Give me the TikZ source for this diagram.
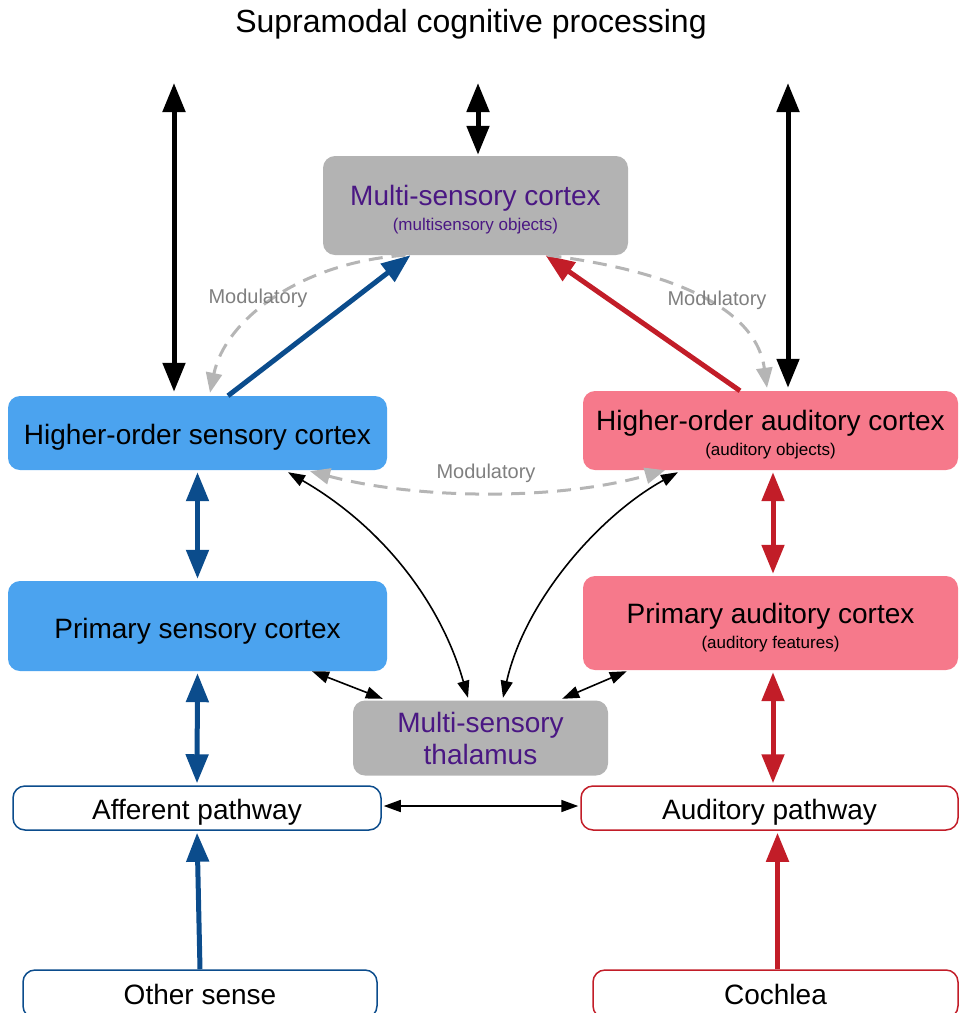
\documentclass[tikz,border=0pt]{standalone}
\usepackage{fontspec}
\setmainfont{Liberation Sans}
\usetikzlibrary{arrows.meta,calc}
\definecolor{boxblue}{HTML}{4BA3EF}
\definecolor{darkblue}{HTML}{0B4C8C}
\definecolor{boxpink}{HTML}{F6798B}
\definecolor{darkred}{HTML}{C21D28}
\definecolor{boxgray}{HTML}{B3B3B3}
\definecolor{purp}{HTML}{4A1783}
\definecolor{modgray}{HTML}{B5B5B5}
\definecolor{labgray}{HTML}{7F7F7F}
\newcommand{\upstrut}[1]{\rule{0pt}{#1}}
\begin{document}
\begin{tikzpicture}[x=1pt,y=-1pt,
  box/.style={rounded corners=12pt, inner sep=0pt, align=center, font=\fontsize{28}{32}\selectfont},
  pathbox/.style={rounded corners=12pt, inner sep=0pt, align=center, fill=white, line width=1.5pt, font=\fontsize{28}{32}\selectfont},
  bigtip/.tip={Triangle[width=22pt,length=29pt]},
  thintip/.tip={Triangle[width=12pt,length=17pt]},
  modtip/.tip={Triangle[width=16pt,length=20pt]},
  thickline/.style={line width=5pt},
  blkthick/.style={thickline, black, {bigtip}-{bigtip}},
  bluetwo/.style={thickline, darkblue, {bigtip}-{bigtip}, shorten <=2pt, shorten >=2pt},
  blueone/.style={thickline, darkblue, -{bigtip}},
  redtwo/.style={thickline, darkred, {bigtip}-{bigtip}, shorten <=2pt, shorten >=2pt},
  redone/.style={thickline, darkred, -{bigtip}},
  thinarr/.style={line width=1.6pt, black, {thintip}-{thintip}},
  modline/.style={line width=3pt, modgray, dash pattern=on 14pt off 9pt},
  modlabel/.style={font=\fontsize{20}{24}\selectfont, text=labgray, inner sep=0pt}
]
\useasboundingbox (0,0) rectangle (959,1013);

% title
\node[font=\fontsize{32}{36}\selectfont, inner sep=0pt] (title) at (471,24) {Supramodal cognitive processing};

% boxes
\node[box, fill=boxgray, text=purp, minimum width=305pt, minimum height=99pt] (mc) at (475.5,205.5)
  {\upstrut{29.5pt}Multi-sensory cortex\\[-7pt]{\fontsize{17}{20}\selectfont (multisensory objects)}};
\node[box, fill=boxblue, minimum width=379pt, minimum height=74pt] (hos) at (197.5,433) {\upstrut{28pt}Higher-order sensory cortex};
\node[box, fill=boxpink, minimum width=375pt, minimum height=79pt] (ha) at (770.5,430.5)
  {\upstrut{29.5pt}Higher-order auditory cortex\\[-7pt]{\fontsize{17}{20}\selectfont (auditory objects)}};
\node[box, fill=boxblue, minimum width=379pt, minimum height=90pt] (ps) at (197.5,626) {\upstrut{30pt}Primary sensory cortex};
\node[box, fill=boxpink, minimum width=375pt, minimum height=94pt] (pa) at (770.5,623)
  {\upstrut{29.5pt}Primary auditory cortex\\[-7pt]{\fontsize{17}{20}\selectfont (auditory features)}};
\node[box, fill=boxgray, text=purp, minimum width=255pt, minimum height=75pt] (thal) at (480.5,738)
  {Multi-sensory\\thalamus};
\node[pathbox, draw=darkblue, minimum width=368pt, minimum height=44pt] (af) at (197,808) {\upstrut{29pt}Afferent pathway};
\node[pathbox, draw=darkred, minimum width=377pt, minimum height=44pt] (apw) at (769.5,808) {\upstrut{29pt}Auditory pathway};
\node[pathbox, draw=darkblue, minimum width=354pt, minimum height=48pt] (os) at (200,994) {Other sense};
\node[pathbox, draw=darkred, minimum width=365pt, minimum height=48pt] (coch) at (775.5,994) {Cochlea};

% top black arrows
\coordinate (t1) at (174,83);
\coordinate (t2) at (478,83);
\coordinate (t3) at (788,83);
\draw[blkthick] (t1) -- ($(t1 |- hos.north)+(0,-4)$);
\draw[blkthick] (t2) -- ($(t2 |- mc.north)+(0,-1)$);
\draw[blkthick] (t3) -- ($(t3 |- ha.north)+(0,-3)$);

% feedforward to multisensory cortex
\draw[blueone] ([xshift=30.5pt]hos.north) -- ([xshift=-65pt]mc.south);
\draw[redone] ([xshift=-30.5pt]ha.north) -- ([xshift=70pt]mc.south);

% modulatory
\draw[modline, -{modtip}] ([xshift=-70pt]mc.south) .. controls +(-105,7) and +(15,-73) .. ([xshift=12.5pt,yshift=3pt]hos.north);
\draw[modline, -{modtip}] ([xshift=72pt]mc.south) .. controls +(103,13) and +(-12,-88) .. ([xshift=-3.5pt,yshift=3pt]ha.north);
\draw[modline, {modtip}-{modtip}] ([xshift=112.5pt,yshift=-1pt]hos.south) .. controls +(110,29) and +(-105,30) .. ([xshift=-105.5pt]ha.south);
\node[modlabel] (ml1) at (258,298) {Modulatory};
\node[modlabel] (ml2) at (717,300) {Modulatory};
\node[modlabel] (ml3) at (486,473) {Modulatory};

% thin arrows to thalamus
\draw[thinarr] ([xshift=90.5pt,yshift=-2pt]hos.south) .. controls +(92,53) and +(-28,-98) .. ([xshift=-12.5pt,yshift=2.5pt]thal.north);
\draw[thinarr] ([xshift=-92.5pt,yshift=-2pt]ha.south) .. controls +(-78,43) and +(22,-98) .. ([xshift=22.5pt,yshift=2.5pt]thal.north);
\draw[thinarr] ([xshift=114.5pt]ps.south) -- ([xshift=30pt,yshift=1.5pt]thal.north west);
\draw[thinarr] ([xshift=44pt,yshift=-1pt]pa.south west) -- ([xshift=-46pt,yshift=1.5pt]thal.north east);
\draw[thinarr, shorten <=2pt, shorten >=2pt] ([yshift=2pt]af.east) -- ([yshift=2pt]apw.west);

% vertical pathways
\draw[bluetwo] (hos.south) -- (ps.north);
\draw[bluetwo] (ps.south) -- (af.north);
\draw[blueone, shorten >=2pt] (os.north) -- (af.south);
\draw[redtwo] ([xshift=2.5pt]ha.south) -- ([xshift=2.5pt]pa.north);
\draw[redtwo] ([xshift=2.5pt]pa.south) -- ([xshift=3.5pt]apw.north);
\draw[redone, shorten >=2pt] ([xshift=2pt]coch.north) -- ([xshift=2pt]coch.north |- apw.south);
\end{tikzpicture}
\end{document}
